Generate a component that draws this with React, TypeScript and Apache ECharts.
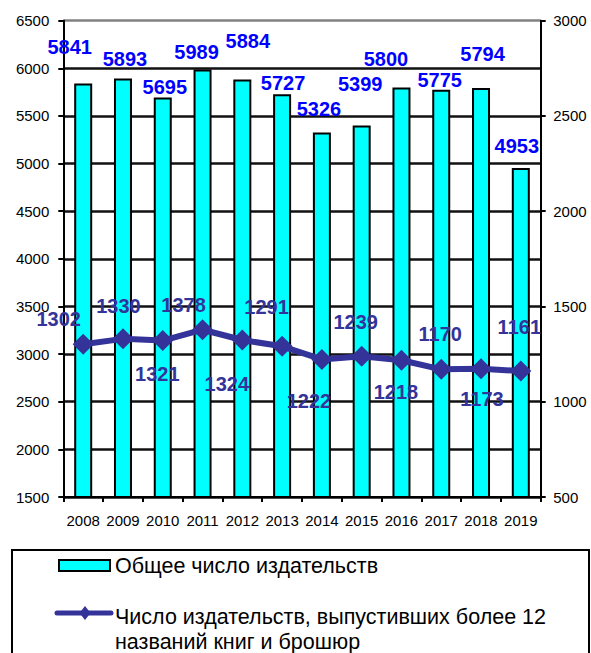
import React, { useEffect, useRef } from "react";
import * as echarts from "echarts";

const years = ["2008", "2009", "2010", "2011", "2012", "2013", "2014", "2015", "2016", "2017", "2018", "2019"];
const totalPublishers = [5841, 5893, 5695, 5989, 5884, 5727, 5326, 5399, 5800, 5775, 5794, 4953];
const activePublishers = [1302, 1330, 1321, 1378, 1324, 1291, 1222, 1239, 1218, 1170, 1173, 1161];
const leftAxisMin = 1500;
const leftAxisMax = 6500;
const rightAxisMin = 500;
const rightAxisMax = 3000;
const axisStep = 500;
const seriesNames = [
  "Общее число издательств",
  "Число издательств, выпустивших более 12",
  "названий книг и брошюр",
];

// label placements (pixel offsets), kept apart from the values
const barLabelOffsets = [
  [-13.5, -21], [2, -4.5], [2, 5], [-6, -2.5], [5.5, -23.5], [1, 4],
  [-3, -9], [-1.5, -26.5], [-15.5, -13.5], [-1.5, 5], [1.5, -19], [-4, -7.5],
];
const lineLabelOffsets = [
  [-24.5, -25], [-4.5, -33], [-5.5, 33], [-19, -25], [-15.5, 43.5], [-15.5, -39],
  [-13, 41.5], [-6, -34.5], [-5.5, 31.5], [-1, -35], [1, 30.5], [-1.5, -44.5],
];

const FONT = "'Liberation Sans', Arial, Helvetica, sans-serif";
const plain = (v: number) => String(v);

export default function App() {
  const ref = useRef<HTMLDivElement>(null);
  useEffect(() => {
    if (!ref.current) return;
    const chart = echarts.init(ref.current, null, { renderer: "svg" });
    const nLines = (leftAxisMax - leftAxisMin) / axisStep + 1;
    const splitColors = Array.from({ length: nLines }, (_, i) => (i === nLines - 1 ? "#808080" : "#111111"));
    chart.setOption({
      animation: false,
      grid: { left: 63.3, right: 50.3, top: 20.7, bottom: 156, containLabel: false },
      xAxis: {
        type: "category",
        data: years,
        axisLine: { lineStyle: { color: "#000", width: 2 } },
        axisTick: { show: true, length: 5, lineStyle: { color: "#000", width: 2 } },
        axisLabel: { color: "#000", fontSize: 15, fontFamily: FONT, margin: 16, interval: 0 },
        splitLine: { show: false },
      },
      yAxis: [
        {
          type: "value",
          min: leftAxisMin,
          max: leftAxisMax,
          interval: axisStep,
          position: "left",
          axisLine: { show: true, lineStyle: { color: "#000", width: 2 } },
          axisTick: { show: true, length: 5, lineStyle: { color: "#000", width: 2 } },
          axisLabel: { color: "#000", fontSize: 15, fontFamily: FONT, margin: 14, formatter: plain },
          splitLine: { show: true, lineStyle: { color: splitColors, width: 2.5 } },
        },
        {
          type: "value",
          min: rightAxisMin,
          max: rightAxisMax,
          interval: axisStep,
          position: "right",
          axisLine: { show: true, lineStyle: { color: "#000", width: 2 } },
          axisTick: { show: true, length: 5, lineStyle: { color: "#000", width: 2 } },
          axisLabel: { color: "#000", fontSize: 15, fontFamily: FONT, margin: 12.5, formatter: plain },
          splitLine: { show: false },
        },
      ],
      series: [
        {
          name: seriesNames[0],
          type: "bar",
          yAxisIndex: 0,
          barWidth: 18,
          itemStyle: { color: "#00FFFF", borderColor: "#000", borderWidth: 2 },
          label: {
            show: true,
            position: "top",
            distance: 5,
            color: "#0000FF",
            fontSize: 20,
            fontWeight: "bold",
            fontFamily: FONT,
          },
          data: totalPublishers.map((v, i) => ({ value: v, label: { offset: barLabelOffsets[i] } })),
        },
        {
          name: seriesNames[1],
          type: "line",
          yAxisIndex: 1,
          symbol: "diamond",
          symbolSize: 21,
          lineStyle: { color: "#333399", width: 6 },
          itemStyle: { color: "#333399" },
          label: {
            show: true,
            position: "inside",
            color: "#333399",
            fontSize: 20,
            fontWeight: "bold",
            fontFamily: FONT,
          },
          data: activePublishers.map((v, i) => ({ value: v, label: { offset: lineLabelOffsets[i] } })),
        },
      ],
      graphic: [
        {
          type: "rect",
          shape: { x: 12, y: 550, width: 577, height: 140 },
          style: { fill: "#fff", stroke: "#000", lineWidth: 2 },
        },
        {
          type: "rect",
          shape: { x: 59, y: 560, width: 51, height: 11 },
          style: { fill: "#00FFFF", stroke: "#000", lineWidth: 2 },
        },
        {
          type: "text",
          x: 115,
          y: 566,
          style: { text: seriesNames[0], fill: "#000", fontSize: 21.5, fontFamily: FONT, verticalAlign: "middle" },
        },
        {
          type: "line",
          shape: { x1: 57, y1: 613, x2: 111, y2: 613 },
          style: { stroke: "#333399", lineWidth: 5, lineCap: "round" },
        },
        {
          type: "polygon",
          shape: { points: [[85, 606], [90.5, 613], [85, 620], [79.5, 613]] },
          style: { fill: "#333399" },
        },
        {
          type: "text",
          x: 115,
          y: 617,
          style: { text: seriesNames[1], fill: "#000", fontSize: 21.5, fontFamily: FONT, verticalAlign: "middle" },
        },
        {
          type: "text",
          x: 115,
          y: 642,
          style: { text: seriesNames[2], fill: "#000", fontSize: 21.5, fontFamily: FONT, verticalAlign: "middle" },
        },
      ],
    });
    return () => chart.dispose();
  }, []);
  return (
    <div
      ref={ref}
      style={{ position: "fixed", left: 0, top: 0, width: 591, height: 653, background: "#fff" }}
    />
  );
}
